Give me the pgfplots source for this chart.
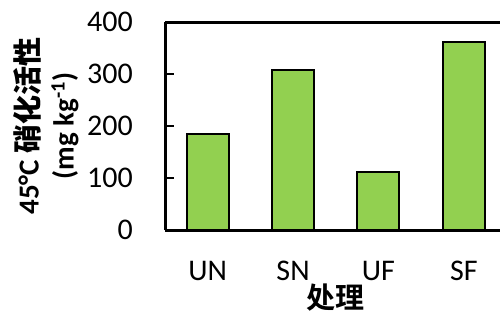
\documentclass[border=0pt]{standalone}
\usepackage{pgfplots}
\pgfplotsset{compat=1.18}
\usepackage{fontspec}
\setmainfont{Carlito}
\newfontfamily\cjk{Noto Sans CJK SC Bold}
\definecolor{bargreen}{RGB}{146,208,80}
\begin{document}
\begin{tikzpicture}[x=1pt,y=1pt]
\begin{axis}[
  at={(165pt,83pt)}, anchor=south west,
  scale only axis, width=335pt, height=208pt,
  xmin=-0.5, xmax=3.424, ymin=0, ymax=400,
  axis x line=box, axis y line=left,
  axis line style={line width=3pt, -},
  clip=false,
  xtick={0,1,2,3}, xticklabels={UN,SN,UF,SF},
  ytick={0,100,200,300,400},
  x tick style={draw=none},
  y tick style={line width=1.5pt, black},
  major tick length=9pt,
  tick align=inside,
  tick label style={font=\fontsize{30}{33}\selectfont},
  /pgf/number format/assume math mode=true,
  yticklabel style={anchor=east, inner sep=0pt, xshift=-32pt},
  xticklabel style={anchor=base, inner sep=0pt, yshift=-41pt},
  xlabel={\cjk 处理},
  xlabel style={at={(axis description cs:0.51,-0.325)}, anchor=center, inner sep=0pt, font=\fontsize{29}{32}\selectfont},
  ylabel={{\bfseries 45°C \cjk 硝化活性}\\{\bfseries (mg kg\textsuperscript{-1})}},
  ylabel style={at={(axis description cs:-0.355,0.5)}, anchor=center, rotate=0, align=center, inner sep=0pt, font=\fontsize{29}{35}\selectfont},
  ybar, bar width=42pt,
]
\addplot[fill=bargreen, draw=black, line width=2pt] coordinates {(0,185) (1,308) (2,112) (3,362)};
\end{axis}
\pgfresetboundingbox
\path[use as bounding box] (0,0) rectangle (500,313);
\end{tikzpicture}
\end{document}
